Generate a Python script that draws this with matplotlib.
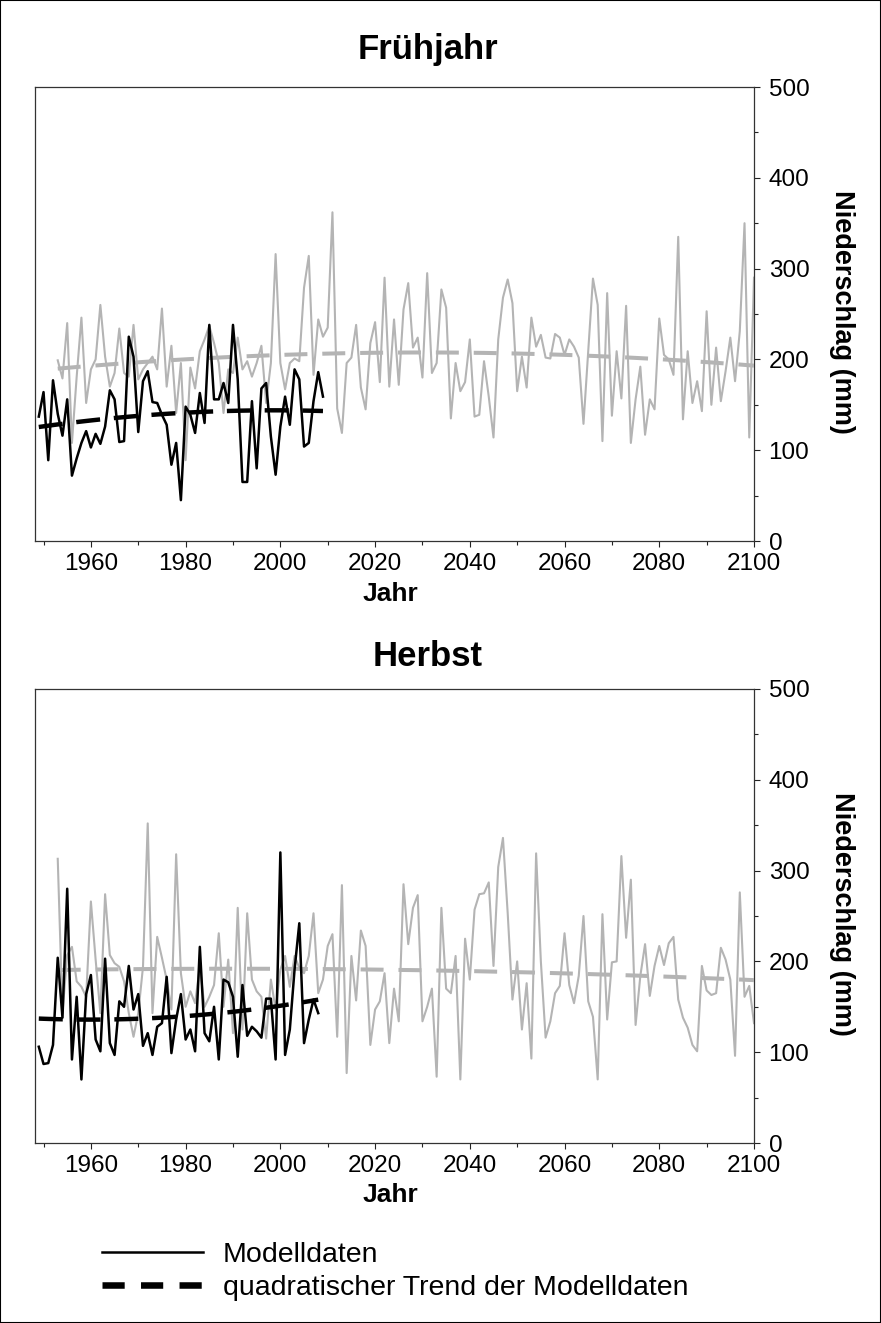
import numpy as np
import matplotlib
matplotlib.use('Agg')
import matplotlib.pyplot as plt
from matplotlib.lines import Line2D
from matplotlib.patches import Rectangle

plt.rcParams['font.family'] = ['Liberation Sans', 'DejaVu Sans']

# Frühjahr: Modelldaten (schwarz) und Projektion (grau)
spring_model_years = np.arange(1949, 2010)
spring_model = [137, 164, 89, 177, 140, 116, 156, 72, 91, 108,
                121, 103, 118, 107, 126, 166, 156, 109, 110, 225,
                203, 120, 176, 187, 153, 152, 139, 128, 84, 108,
                45, 148, 139, 119, 163, 130, 238, 156, 156, 174,
                152, 238, 178, 65, 65, 154, 80, 168, 174, 115,
                73, 126, 159, 128, 189, 178, 104, 108, 154, 186,
                159]
spring_proj_years = np.arange(1953, 2101)
spring_proj = [199, 179, 240, 108, 181, 246, 152, 189, 200, 260,
               203, 170, 185, 234, 185, 181, 238, 178, 189, 196,
               203, 189, 256, 170, 215, 141, 196, 89, 191, 168,
               209, 222, 237, 218, 196, 141, 189, 185, 224, 189,
               198, 181, 196, 215, 152, 196, 316, 196, 167, 196,
               201, 198, 279, 314, 183, 244, 225, 235, 362, 146,
               119, 196, 202, 238, 169, 145, 218, 241, 175, 290,
               170, 244, 172, 255, 284, 213, 224, 180, 295, 185,
               196, 277, 257, 135, 196, 165, 175, 222, 137, 139,
               198, 159, 114, 222, 268, 288, 262, 165, 203, 169,
               246, 214, 227, 202, 201, 228, 224, 205, 222, 214,
               202, 129, 209, 289, 260, 110, 273, 138, 209, 157,
               259, 108, 156, 192, 117, 156, 145, 245, 205, 200,
               183, 335, 134, 209, 152, 176, 143, 253, 150, 213,
               154, 187, 224, 176, 231, 350, 114, 290]

# Herbst
autumn_model_years = np.arange(1949, 2009)
autumn_model = [106, 87, 88, 108, 204, 138, 280, 92, 161, 70,
                164, 185, 114, 101, 203, 110, 97, 156, 150, 195,
                147, 164, 107, 121, 97, 128, 132, 183, 99, 136,
                164, 114, 125, 101, 216, 121, 112, 150, 92, 180,
                177, 161, 95, 174, 118, 128, 123, 116, 159, 159,
                92, 320, 97, 125, 191, 242, 110, 136, 158, 143]
autumn_proj_years = np.arange(1953, 2101)
autumn_proj = [313, 143, 207, 216, 178, 172, 161, 266, 202, 143,
               274, 207, 198, 194, 178, 143, 117, 143, 194, 352,
               143, 227, 204, 180, 147, 318, 187, 150, 167, 154,
               194, 150, 161, 174, 231, 150, 202, 121, 259, 125,
               253, 180, 167, 161, 115, 180, 147, 191, 206, 172,
               206, 193, 187, 206, 253, 165, 180, 217, 230, 117,
               284, 77, 206, 157, 234, 217, 108, 147, 156, 187,
               110, 170, 134, 285, 219, 259, 273, 134, 150, 170,
               73, 259, 170, 165, 206, 70, 225, 180, 257, 274,
               275, 287, 195, 304, 336, 253, 158, 200, 125, 176,
               93, 319, 200, 116, 134, 165, 173, 231, 174, 154,
               184, 250, 156, 139, 70, 252, 136, 199, 200, 316,
               226, 290, 130, 184, 219, 162, 195, 217, 196, 220,
               227, 158, 138, 127, 108, 101, 195, 168, 163, 165,
               215, 202, 180, 96, 276, 161, 173, 132]

x_major = [1960, 1980, 2000, 2020, 2040, 2060, 2080, 2100]
x_minor = [1950, 1970, 1990, 2010, 2030, 2050, 2070, 2090]
y_major = [0, 100, 200, 300, 400, 500]
y_minor = [50, 150, 250, 350, 450]

GRAY = '#b4b4b4'
W, H = 881, 1323


def quad_trend(years, values):
    # quadratischer Trend (zentriert, damit polyfit stabil bleibt)
    x = years - years.mean()
    coef = np.polyfit(x, values, 2)
    return np.polyval(coef, x)


def draw_panel(ax, model_years, model, proj_years, proj):
    ax.plot(proj_years, proj, color=GRAY, lw=1.5, zorder=2)
    ax.plot(proj_years, quad_trend(proj_years, proj), color=GRAY, lw=2.9,
            dashes=(5.7, 3.7), zorder=3)
    ax.plot(model_years, model, color='black', lw=1.8, zorder=4)
    ax.plot(model_years, quad_trend(model_years, model), color='black', lw=3.2,
            dashes=(5.4, 3.1), zorder=5)

    ax.set_xlim(1948.2, 2100)
    ax.set_ylim(0, 500)
    ax.set_xticks(x_major)
    ax.set_xticks(x_minor, minor=True)
    ax.set_yticks(y_major)
    ax.set_yticks(y_minor, minor=True)
    ax.yaxis.tick_right()
    ax.tick_params(axis='both', which='major', direction='out', length=4.5,
                   width=0.8, labelsize=17.5, color='#222222')
    ax.tick_params(axis='both', which='minor', direction='out', length=2.6,
                   width=0.8, color='#222222')
    ax.tick_params(axis='x', which='major', pad=4)
    ax.tick_params(axis='y', which='major', pad=6)
    for side in ax.spines:
        ax.spines[side].set_linewidth(0.9)
        ax.spines[side].set_color('#333333')


fig = plt.figure(figsize=(W / 100, H / 100), dpi=100)

ax_top = fig.add_axes([35 / W, 1 - 541 / H, 719 / W, 454 / H])
ax_bot = fig.add_axes([35 / W, 1 - 1143 / H, 719 / W, 454 / H])

draw_panel(ax_top, spring_model_years, spring_model, spring_proj_years, spring_proj)
draw_panel(ax_bot, autumn_model_years, autumn_model, autumn_proj_years, autumn_proj)

# Titel und Achsenbeschriftungen
fig.text(428 / W, 1 - 50 / H, 'Frühjahr', ha='center', va='center',
         fontsize=25, fontweight='bold')
fig.text(428 / W, 1 - 657 / H, 'Herbst', ha='center', va='center',
         fontsize=25, fontweight='bold')
for y_px in (594, 1195):
    fig.text(390 / W, 1 - y_px / H, 'Jahr', ha='center', va='center',
             fontsize=19, fontweight='bold')
for y_px in (312, 914):
    fig.text(842 / W, 1 - y_px / H, 'Niederschlag (mm)', ha='center',
             va='center', rotation=270, fontsize=19.5, fontweight='bold')

# Legende
handles = [Line2D([], [], color='black', lw=1.8),
           Line2D([], [], color='black', lw=4.7, dashes=(3.4, 2.5))]
labels = ['Modelldaten', 'quadratischer Trend der Modelldaten']
fig.legend(handles, labels, loc='upper left',
           bbox_to_anchor=(102 / W, 1 - 1242 / H), frameon=False,
           fontsize=20.5, handlelength=3.55, handletextpad=0.7,
           labelspacing=0.26, borderpad=0, borderaxespad=0)

# Rahmen um die ganze Grafik
fig.patches.append(Rectangle((0, 0), 1, 1, transform=fig.transFigure,
                             fill=False, edgecolor='black', lw=1.5))

fig.savefig('out.png', dpi=100)
